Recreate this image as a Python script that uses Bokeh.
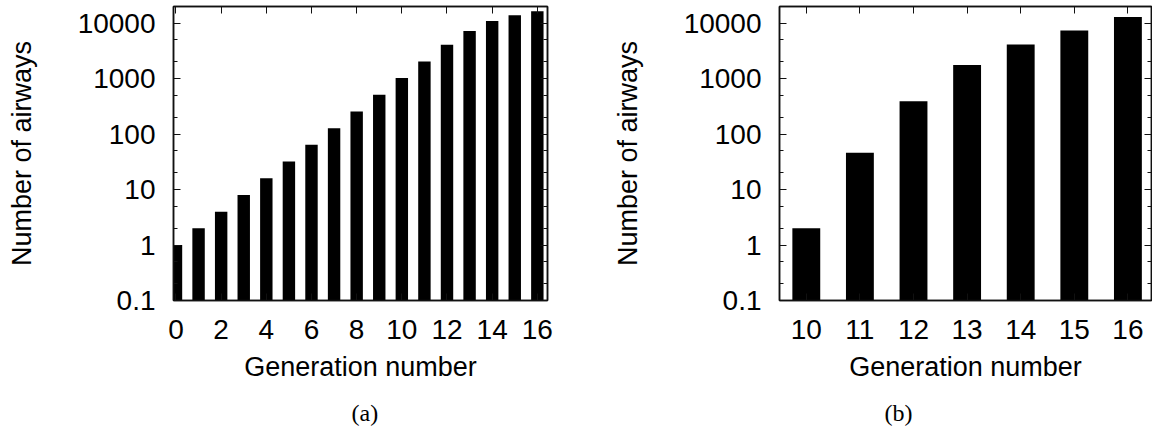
from bokeh.plotting import figure
from bokeh.layouts import row
from bokeh.models import Range1d, FixedTicker, LogAxis, LinearAxis, Title, CustomJSTickFormatter
from bokeh.embed import file_html
from bokeh.resources import INLINE

# ---- data ----
gen_a = [0, 1, 2, 3, 4, 5, 6, 7, 8, 9, 10, 11, 12, 13, 14, 15, 16]
airways_a = [1, 2, 4, 8, 16, 32, 64, 128, 256, 512, 1024, 2048, 4096, 7200, 10900, 13900, 16400]
gen_b = [10, 11, 12, 13, 14, 15, 16]
airways_b = [2, 46, 390, 1760, 4150, 7400, 13000]
y_major = [0.1, 1, 10, 100, 1000, 10000]
y_minor = [0.2, 0.5, 2, 5, 20, 50, 200, 500, 2000, 5000]
x_ticks_a = [0, 2, 4, 6, 8, 10, 12, 14, 16]
x_ticks_b = [10, 11, 12, 13, 14, 15, 16]
y_lo, y_hi = 0.1, 20000

SANS = "Liberation Sans"
SERIF = "Liberation Serif"


def style_axis(ax, show_labels=True):
    ax.axis_line_color = "#111111"
    ax.axis_line_width = 1.5
    ax.major_tick_in = 7
    ax.major_tick_out = 0
    ax.minor_tick_in = 4
    ax.minor_tick_out = 0
    ax.major_tick_line_color = "#111111"
    ax.minor_tick_line_color = "#111111"
    ax.major_tick_line_width = 1
    ax.minor_tick_line_width = 1
    if show_labels:
        ax.major_label_text_font = SANS
        ax.major_label_text_font_size = "28px"
        ax.major_label_text_color = "black"
        ax.axis_label_text_font = SANS
        ax.axis_label_text_font_size = "27px"
        ax.axis_label_text_font_style = "normal"
        ax.axis_label_text_color = "black"
    else:
        ax.major_label_text_font_size = "1px"
        ax.major_label_text_color = None
        ax.major_label_standoff = 0
        ax.axis_label = None


def panel(xs, ys, xr, xticks, bar_w, width, b_left, b_right, caption, cap_offset):
    p = figure(width=width, height=438, x_range=Range1d(*xr), y_range=Range1d(y_lo, y_hi),
               y_axis_type="log", output_backend="svg", toolbar_location=None,
               min_border_left=b_left, min_border_right=b_right, min_border_top=6,
               min_border_bottom=138, background_fill_color="white",
               border_fill_color="white")
    p.grid.visible = False
    p.outline_line_color = "#111111"
    p.outline_line_width = 1.5
    p.vbar(x=xs, top=ys, bottom=y_lo, width=bar_w, fill_color="black", line_color=None)

    yt = FixedTicker(ticks=y_major, minor_ticks=y_minor)
    fmt = CustomJSTickFormatter(code="return tick.toString();")
    xt = FixedTicker(ticks=xticks, minor_ticks=[])

    p.yaxis.ticker = yt
    p.yaxis.formatter = fmt
    p.yaxis.axis_label = "Number of airways"
    p.xaxis.ticker = xt
    p.xaxis.axis_label = "Generation number"
    style_axis(p.xaxis[0])
    style_axis(p.yaxis[0])
    p.xaxis.major_label_standoff = 19
    p.xaxis.axis_label_standoff = 10
    p.yaxis.major_label_standoff = 18
    p.yaxis.axis_label_standoff = 38

    ry = LogAxis(ticker=FixedTicker(ticks=y_major, minor_ticks=y_minor))
    style_axis(ry, show_labels=False)
    p.add_layout(ry, "right")
    tx = LinearAxis(ticker=FixedTicker(ticks=xticks, minor_ticks=[]))
    style_axis(tx, show_labels=False)
    p.add_layout(tx, "above")

    t = Title(text=caption, align="left", offset=cap_offset, text_font=SERIF,
              text_font_size="24px", text_font_style="normal", text_color="black",
              standoff=26)
    p.add_layout(t, "below")
    return p


pa = panel(gen_a, airways_a, (-0.11, 16.45), x_ticks_a, 0.55, 576, 173, 29, "(a)", 178)
pb = panel(gen_b, airways_b, (9.5, 16.44), x_ticks_b, 0.52, 576, 203, 1, "(b)", 105)

layout = row(pa, pb)
open("out.html", "w").write(file_html(layout, INLINE))
